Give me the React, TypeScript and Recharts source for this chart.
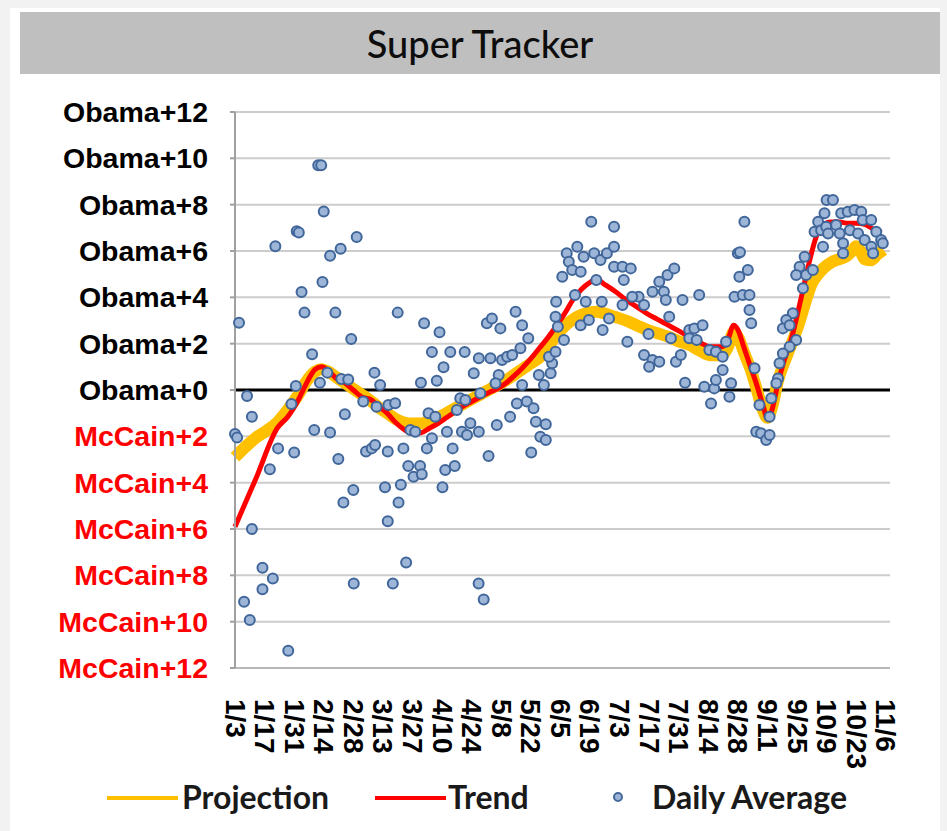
import {
  ComposedChart,
  Line,
  Scatter,
  XAxis,
  YAxis,
  CartesianGrid,
  ReferenceLine,
} from "recharts";

// days counted from 1/3; tick every two weeks
const dateLabels = [
  "1/3", "1/17", "1/31", "2/14", "2/28", "3/13", "3/27", "4/10", "4/24", "5/8", "5/22", "6/5",
  "6/19", "7/3", "7/17", "7/31", "8/14", "8/28", "9/11", "9/25", "10/9", "10/23", "11/6",
];
const tickDays = dateLabels.map((_, i) => i * 14);
const yTicks = [-12, -10, -8, -6, -4, -2, 0, 2, 4, 6, 8, 10, 12];

const trendDays = [
  0, 10, 20, 25, 29, 32, 35, 38, 41, 44, 48, 52, 56, 60, 64, 68, 72, 76, 80, 84, 88, 92, 96, 100,
  104, 108, 112, 116, 120, 124, 128, 132, 136, 140, 144, 148, 152, 156, 160, 164, 168, 171, 175, 180,
  185, 190, 195, 200, 205, 210, 215, 220, 225, 230, 233, 236, 238, 241, 244, 247, 250, 252, 254, 257,
  260, 263, 266, 269, 272, 275, 278, 282, 286, 290, 294, 298, 302, 306,
];
const trendValues = [
  -5.9, -3.8, -1.65, -1.15, -0.6, -0.05, 0.5, 0.9, 1.0, 0.85, 0.5, 0.3, 0.0, -0.3, -0.4, -0.7,
  -1.0, -1.4, -1.7, -1.88, -1.85, -1.65, -1.45, -1.2, -0.95, -0.7, -0.5, -0.3, -0.12, 0.05, 0.28, 0.6,
  0.95, 1.35, 1.8, 2.25, 2.75, 3.3, 3.9, 4.35, 4.65, 4.78, 4.55, 4.25, 3.9, 3.6, 3.3, 3.05, 2.8, 2.55,
  2.3, 2.05, 1.87, 1.87, 2.1, 2.8, 2.6, 1.8, 1.0, 0.2, -0.7, -1.25, -0.9, 0.3, 1.3, 2.1, 3.2, 4.4, 5.6,
  6.6, 7.1, 7.25, 7.25, 7.2, 7.2, 7.15, 6.95, 6.8,
];

const projectionDays = [
  0, 5, 10, 15, 20, 25, 30, 34, 38, 41, 44, 48, 52, 56, 60, 64, 68, 72, 76, 80, 84, 88, 92, 96, 100,
  104, 108, 112, 116, 120, 124, 128, 132, 136, 140, 144, 148, 152, 156, 160, 164, 168, 171, 175, 180,
  185, 190, 195, 200, 205, 210, 215, 220, 225, 230, 233, 236, 238, 241, 244, 247, 250, 252, 254, 257,
  260, 263, 267, 270, 273, 276, 279, 282, 286, 289, 292, 294, 296, 298, 301, 304, 307,
];
const projectionValues = [
  -2.9, -2.45, -2.05, -1.75, -1.4, -0.85, -0.2, 0.4, 0.8, 0.9, 0.8, 0.55, 0.3, 0.05, -0.2, -0.45,
  -0.75, -1.0, -1.25, -1.4, -1.45, -1.45, -1.35, -1.2, -1.0, -0.8, -0.6, -0.4, -0.2, 0.0, 0.2, 0.4,
  0.65, 0.9, 1.15, 1.4, 1.85, 2.35, 2.75, 3.05, 3.25, 3.35, 3.38, 3.3, 3.15, 3.0, 2.8, 2.6, 2.45, 2.3,
  2.1, 1.95, 1.7, 1.5, 1.5, 1.8, 2.5, 2.3, 1.6, 0.9, 0.0, -0.9, -1.2, -0.8, 0.4, 1.2, 1.9, 2.9, 3.8,
  4.6, 5.0, 5.3, 5.5, 5.65, 5.75, 6.0, 6.2, 6.0, 5.65, 5.6, 5.85, 6.05,
];

// [day, margin] of each daily average point
const dailyAverage = [
  [39.4, 9.7], [40.8, 9.7], [42, 7.7], [29.2, 6.85], [30.2, 6.8], [19.1, 6.2], [57.6, 6.6], [50, 6.1],
  [45, 5.8], [41.4, 4.66], [31.5, 4.23], [32.9, 3.34], [47.5, 3.34], [1.9, 2.9], [77, 3.34],
  [89.5, 2.88], [96.8, 2.49], [55, 2.2], [36.5, 1.54], [93.2, 1.64], [101.9, 1.64], [108.7, 1.64],
  [98.7, 0.98], [95.5, 0.4], [88, 0.31], [66, 0.75], [68.7, 0.22], [28.8, 0.17], [40.2, 0.31],
  [43.7, 0.75], [50.3, 0.47], [53.6, 0.45],
  [5.7, -0.26], [8, -1.15], [0, -1.9], [1, -2.05], [20.4, -2.52], [28, -2.7], [16.5, -3.42],
  [26.7, -0.6], [37.5, -1.73], [45, -1.83], [52, -1.05], [48.9, -2.98], [56, -4.32], [51.3, -4.86],
  [8, -6.0], [13, -7.67], [17.9, -8.14], [13, -8.6], [4.3, -9.14], [7, -9.93], [25.2, -11.26],
  [56.2, -8.35], [74.7, -8.35], [81, -7.45], [72.3, -5.67], [77.4, -4.86], [71, -4.2], [78.5, -4.09],
  [62, -2.65], [64.7, -2.52], [66.3, -2.37], [72.3, -2.65], [79.7, -2.52], [82, -3.28], [84.5, -3.74],
  [87.6, -3.28], [88.4, -3.64], [90.8, -2.52], [93.2, -2.08], [91.6, -1.0], [94.8, -1.15],
  [100.3, -1.8], [103, -2.52], [99.5, -3.45], [104, -3.28], [98.2, -4.2], [106.6, -0.36], [109, -0.43],
  [105, -0.86], [107.4, -1.8], [109.8, -1.94], [60.7, -0.5], [67, -0.72], [72.6, -0.65], [75.8, -0.57],
  [83, -1.73], [85.3, -1.8],
  [168.6, 7.26], [179.4, 7.05], [157, 5.9], [162, 6.18], [165, 5.75], [170, 5.9], [173, 5.61],
  [176, 5.9], [179.4, 6.18], [179.4, 5.32], [183.4, 5.32], [187.3, 5.25], [158, 5.54], [159.6, 5.18],
  [163.6, 5.1], [154.9, 4.89], [184, 4.75], [171, 4.75], [197.6, 4.24], [200.8, 4.67], [204.7, 4.96],
  [207.9, 5.25], [203, 4.24], [203.9, 3.88], [211.8, 3.88], [219.7, 4.1], [191, 4.03], [193.6, 3.67],
  [188, 4.03], [183.4, 3.67], [160.9, 4.1], [166, 3.81], [173.6, 3.81], [152, 3.81], [151.7, 3.16],
  [152.8, 2.73], [163.6, 2.8], [167.5, 3.02], [177, 3.09], [174, 2.59], [185.7, 2.08], [195.7, 2.42],
  [206.3, 2.23], [205.5, 3.16], [193.6, 1.51], [197.6, 1.29], [200.8, 1.22], [196, 1.0], [208.7, 1.22],
  [211, 1.51], [215, 2.59], [217.4, 2.66], [215, 2.23], [218.5, 2.16], [213, 0.31], [113, 0.72],
  [115.4, 1.37], [120.9, 1.37], [126.4, 1.29], [128.8, 1.44], [131.2, 1.51], [135.1, 1.8],
  [138.8, 2.23], [132.8, 3.38], [135.9, 2.8], [125.6, 2.66], [119.2, 2.88], [121.6, 3.09],
  [143.8, 0.65], [146.2, 0.22], [149.4, 0.72], [150.1, 1.15], [148.6, 1.44], [151.7, 1.65],
  [155.7, 2.16], [124.8, 0.65], [123.3, 0.29], [135.9, 0.22],
  [111.4, -1.44], [115.4, -1.8], [120, -2.85], [123.9, -1.51], [130.2, -1.15], [133.4, -0.58],
  [138.1, -0.5], [141.3, -0.79], [142.4, -1.37], [147.1, -1.48], [144.5, -2.02], [147.1, -2.16],
  [140.2, -2.7], [116.1, -0.14], [115.3, -8.35], [117.7, -9.04],
  [280, 8.2], [283, 8.2], [279, 7.63], [276, 7.26], [274.3, 6.83], [277.4, 6.9], [279.8, 7.05],
  [284.5, 7.12], [286.9, 7.63], [290, 7.69], [293.2, 7.77], [296.4, 7.69], [297.1, 7.34],
  [301.1, 7.34], [303.5, 6.83], [305.8, 6.47], [306.6, 6.33], [278.3, 6.18], [287.8, 6.33],
  [280.7, 6.76], [286.2, 6.76], [291, 6.9], [294.9, 6.76], [298, 6.47], [301.2, 6.18], [302, 5.9],
  [287.8, 5.9], [269.6, 5.75], [267.2, 5.32], [265.6, 4.96], [270.3, 4.96], [273.5, 5.18],
  [268.8, 4.39], [264, 3.31], [260.9, 3.02], [259.3, 2.66], [262.5, 2.8], [265.6, 2.16], [262.5, 1.87],
  [259.3, 1.58], [257.7, 1.15], [257, 0.5], [256.2, 0.29], [253.8, -0.36], [253, -1.15],
  [248.2, -0.65], [246.7, -1.8], [249, -1.87], [251.4, -2.16], [253, -1.94], [245.9, 0.94],
  [241.1, 7.26], [238, 5.9], [239, 5.95], [242.7, 5.18], [238.7, 4.89], [236.4, 4.03], [240.3, 4.1],
  [243.5, 4.1], [243.5, 3.45], [244.3, 2.88], [221.3, 2.8], [224.5, 1.73], [227.6, 1.65],
  [230.8, 1.44], [232.4, 2.08], [222.1, 0.14], [226.8, 0.07], [225.3, -0.58], [230.8, 0.86],
  [227.6, 0.43], [234.8, 0.29], [234, -0.29],
];

const trendData = trendDays.map((day, i) => ({ day, trend: trendValues[i] }));
const projectionData = projectionDays.map((day, i) => ({ day, projection: projectionValues[i] }));
const dailyData = dailyAverage.map(([day, avg]) => ({ day, avg }));

const AXIS_FONT = "'Liberation Sans', Arial, sans-serif";
const LABEL_FONT = "Lato, 'Open Sans', sans-serif";

const YTick = ({ x, y, payload }: any) => {
  const v = payload.value;
  const label = v >= 0 ? `Obama+${v}` : `McCain+${-v}`;
  return (
    <text
      x={x - 20}
      y={y}
      textAnchor="end"
      dominantBaseline="central"
      fill={v < 0 ? "#ff0000" : "#000000"}
      fontSize={28.5}
      fontWeight="bold"
      fontFamily={AXIS_FONT}
    >
      {label}
    </text>
  );
};

const XTick = ({ x, payload }: any) => {
  const top = 699;
  return (
    <text
      x={x}
      y={top}
      transform={`rotate(90 ${x} ${top})`}
      textAnchor="start"
      dominantBaseline="central"
      fill="#000000"
      fontSize={28}
      fontWeight="bold"
      fontFamily={AXIS_FONT}
    >
      {dateLabels[Math.round(payload.value / 14)]}
    </text>
  );
};

const Dot = ({ cx, cy }: any) => (
  <circle cx={cx} cy={cy} r={5} fill="#9db6d8" stroke="#41669a" strokeWidth={2} />
);

const App = () => {
  return (
    <div
      style={{
        position: "absolute",
        left: 0,
        top: 0,
        width: 947,
        height: 831,
        background: "#f2f2f2",
        overflow: "hidden",
      }}
    >
      <div style={{ position: "absolute", left: 10, top: 8, width: 930, height: 823, background: "#ffffff" }} />
      <div
        style={{
          position: "absolute",
          left: 20,
          top: 12,
          width: 920,
          height: 62,
          background: "#bfbfbf",
          display: "flex",
          alignItems: "center",
          justifyContent: "center",
          fontFamily: LABEL_FONT,
          fontSize: 38,
          fontWeight: 500,
          color: "#0d0d0d",
        }}
      >
        Super Tracker
      </div>
      <div style={{ position: "absolute", left: 0, top: 0 }}>
        <ComposedChart
          width={947}
          height={831}
          margin={{ top: 112, right: 57, bottom: 0, left: 0 }}
        >
          <CartesianGrid horizontal vertical={false} stroke="#cccccc" strokeWidth={2} />
          <XAxis
            type="number"
            dataKey="day"
            domain={[0, 310]}
            ticks={tickDays}
            interval={0}
            height={163}
            tickLine={false}
            axisLine={{ stroke: "#b8b8b8", strokeWidth: 2 }}
            tick={<XTick />}
          />
          <YAxis
            type="number"
            domain={[-12, 12]}
            ticks={yTicks}
            interval={0}
            width={235}
            tickSize={5}
            tickLine={{ stroke: "#a0a0a0", strokeWidth: 2 }}
            axisLine={{ stroke: "#a0a0a0", strokeWidth: 2 }}
            tick={<YTick />}
          />
          <ReferenceLine y={0} stroke="#000000" strokeWidth={3} />
          <Line
            data={projectionData}
            dataKey="projection"
            type="monotone"
            stroke="#ffc000"
            strokeWidth={12}
            dot={false}
            isAnimationActive={false}
          />
          <Line
            data={trendData}
            dataKey="trend"
            type="monotone"
            stroke="#ff0000"
            strokeWidth={5}
            dot={false}
            isAnimationActive={false}
          />
          <Scatter data={dailyData} dataKey="avg" shape={<Dot />} isAnimationActive={false} />
        </ComposedChart>
      </div>
      {/* legend */}
      <div
        style={{
          position: "absolute",
          left: 0,
          top: 778,
          width: 947,
          height: 40,
          fontFamily: LABEL_FONT,
          fontSize: 32,
          fontWeight: 700,
          color: "#1a1a1a",
        }}
      >
        <div style={{ position: "absolute", left: 107, top: 18, width: 71, height: 4, background: "#ffc000" }} />
        <div style={{ position: "absolute", left: 182, top: 0, lineHeight: "38px" }}>Projection</div>
        <div style={{ position: "absolute", left: 375, top: 18, width: 71, height: 4, background: "#ff0000" }} />
        <div style={{ position: "absolute", left: 448, top: 0, lineHeight: "38px" }}>Trend</div>
        <svg style={{ position: "absolute", left: 610, top: 11 }} width={16} height={16}>
          <circle cx={8} cy={8} r={4} fill="#9db6d8" stroke="#446a9c" strokeWidth={2} />
        </svg>
        <div style={{ position: "absolute", left: 652, top: 0, lineHeight: "38px" }}>Daily Average</div>
      </div>
    </div>
  );
};

export default App;
